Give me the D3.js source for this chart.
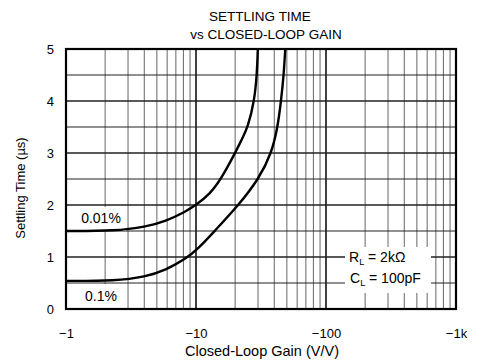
<!DOCTYPE html>
<html>
<head>
<meta charset="utf-8">
<script src="https://cdn.jsdelivr.net/npm/d3@7"></script>
<style>
  html, body { margin: 0; padding: 0; background: #fff; }
  svg { display: block; font-family: "Liberation Sans", Arial, Helvetica, sans-serif; }
</style>
</head>
<body>
<svg id="chart" width="484" height="361"></svg>
<script>
// ---- data ----
const titleLines = ["SETTLING TIME", "vs CLOSED-LOOP GAIN"];
const xTitle = "Closed-Loop Gain (V/V)";
const yTitle = "Settling Time (µs)";
const xTickValues = [1, 10, 100, 1000];
const xTickLabels = ["−1", "−10", "−100", "−1k"];
const yTickValues = [0, 1, 2, 3, 4, 5];

// |gain| and settling time (µs) for the 0.01% curve
const gain001 = [1, 2.4, 4.1, 5.85, 8.3, 10, 12.8, 15.6, 20, 22.4, 25.1, 28.1, 29.4, 29.9];
const time001 = [1.5, 1.5, 1.58, 1.69, 1.87, 2.0, 2.21, 2.5, 3.0, 3.25, 3.5, 4.0, 4.5, 5.0];
// |gain| and settling time (µs) for the 0.1% curve
const gain01 = [1, 2.4, 4.1, 5.85, 8.3, 10.5, 13.9, 21.3, 30.4, 38.2, 42.5, 45.1, 47.3, 48.6];
const time01 = [0.54, 0.54, 0.62, 0.75, 0.96, 1.17, 1.5, 2.0, 2.5, 3.0, 3.5, 4.0, 4.5, 5.0];

const curveLabels = ["0.01%", "0.1%"];

// ---- layout ----
const svg = d3.select("#chart");
const L = 66, R = 456, T = 49, B = 309;
const x = d3.scaleLog().domain([1, 1000]).range([L, R]);
const y = d3.scaleLinear().domain([0, 5]).range([B, T]);

// grid: vertical minor lines
const minorX = [];
for (let d = 1; d < 1000; d *= 10) for (let k = 2; k <= 9; k++) minorX.push(d * k);
const grid = svg.append("g");
grid.selectAll("line.vminor").data(minorX).join("line")
  .attr("x1", d => x(d)).attr("x2", d => x(d))
  .attr("y1", T).attr("y2", B)
  .attr("stroke", "#666").attr("stroke-width", 1);
grid.selectAll("line.vmajor").data([10, 100]).join("line")
  .attr("x1", d => x(d)).attr("x2", d => x(d))
  .attr("y1", T).attr("y2", B)
  .attr("stroke", "#111").attr("stroke-width", 1.6);
const hLines = d3.range(0.5, 5, 0.5);
grid.selectAll("line.h").data(hLines).join("line")
  .attr("x1", L).attr("x2", R)
  .attr("y1", d => y(d)).attr("y2", d => y(d))
  .attr("stroke", "#222").attr("stroke-width", d => (d % 1 === 0 ? 1.6 : 1.1));

// white label boxes (cover the grid)
function box(x0, y0, x1, y1) {
  svg.append("rect").attr("x", x0).attr("y", y0).attr("width", x1 - x0).attr("height", y1 - y0).attr("fill", "#fff");
}
box(76, 207, 126, 231);
box(76, 284, 126, 308);
box(345, 247, 431, 293);

// curves
const line = d3.line().x(d => x(d[0])).y(d => y(d[1])).curve(d3.curveBasis);
svg.append("path").datum(d3.zip(gain001, time001)).attr("d", line)
  .attr("fill", "none").attr("stroke", "#000").attr("stroke-width", 2.4);
svg.append("path").datum(d3.zip(gain01, time01)).attr("d", line)
  .attr("fill", "none").attr("stroke", "#000").attr("stroke-width", 2.4);

// border
svg.append("rect").attr("x", L).attr("y", T).attr("width", R - L).attr("height", B - T)
  .attr("fill", "none").attr("stroke", "#000").attr("stroke-width", 2.2);

// axes (labels only)
const xAxis = d3.axisBottom(x).tickValues(xTickValues)
  .tickFormat((d, i) => xTickLabels[i]).tickSize(0).tickPadding(0);
const gx = svg.append("g").attr("transform", `translate(0,${B})`).call(xAxis);
gx.select(".domain").remove();
gx.selectAll("text").attr("y", 29).attr("dy", 0).attr("font-size", 13).attr("fill", "#000")
  .attr("font-family", "Liberation Sans, Arial, sans-serif");

const yAxis = d3.axisLeft(y).tickValues(yTickValues).tickFormat(d3.format("d")).tickSize(0).tickPadding(12);
const gy = svg.append("g").attr("transform", `translate(${L},0)`).call(yAxis);
gy.select(".domain").remove();
gy.selectAll("text").attr("font-size", 13).attr("fill", "#000")
  .attr("font-family", "Liberation Sans, Arial, sans-serif");

// titles
svg.append("text").attr("x", 260).attr("y", 21).attr("text-anchor", "middle")
  .attr("font-size", 13.5).text(titleLines[0]);
svg.append("text").attr("x", 266).attr("y", 39).attr("text-anchor", "middle")
  .attr("font-size", 13.5).text(titleLines[1]);
svg.append("text").attr("x", 262).attr("y", 356).attr("text-anchor", "middle")
  .attr("font-size", 14.5).text(xTitle);
svg.append("text").attr("transform", "translate(25,188) rotate(-90)").attr("text-anchor", "middle")
  .attr("font-size", 13).text(yTitle);

// curve labels
svg.append("text").attr("x", 101).attr("y", 223).attr("text-anchor", "middle").attr("font-size", 14).text(curveLabels[0]);
svg.append("text").attr("x", 101).attr("y", 301).attr("text-anchor", "middle").attr("font-size", 14).text(curveLabels[1]);

// conditions annotation
const a1 = svg.append("text").attr("x", 349).attr("y", 262).attr("font-size", 14);
a1.append("tspan").text("R");
a1.append("tspan").attr("font-size", 9).attr("dy", 3).text("L");
a1.append("tspan").attr("dy", -3).text(" = 2kΩ");
const a2 = svg.append("text").attr("x", 350).attr("y", 283).attr("font-size", 14);
a2.append("tspan").text("C");
a2.append("tspan").attr("font-size", 9).attr("dy", 3).text("L");
a2.append("tspan").attr("dy", -3).text(" = 100pF");
</script>
</body>
</html>
